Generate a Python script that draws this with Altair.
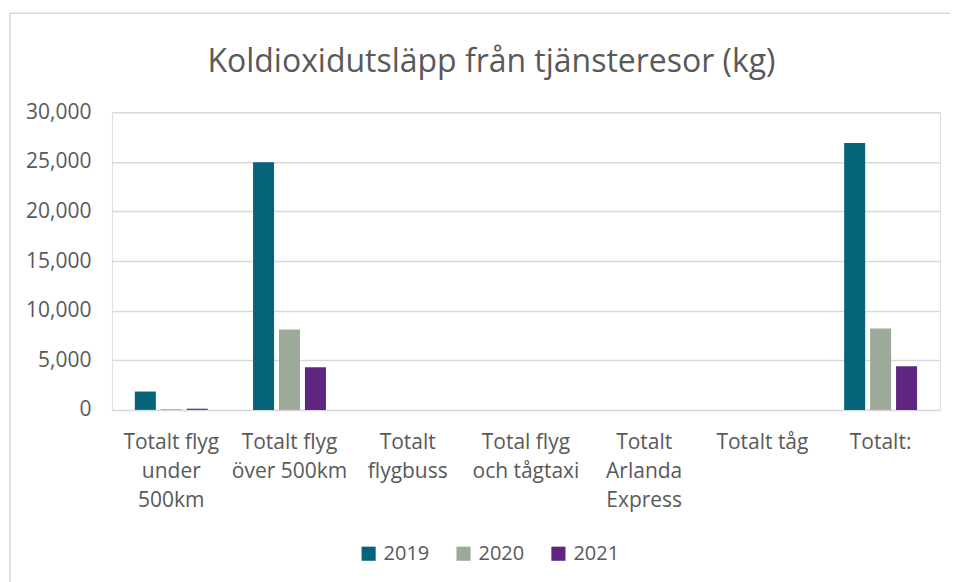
import altair as alt
import pandas as pd

categories = ["Totalt flyg|under|500km", "Totalt flyg|över 500km", "Totalt|flygbuss",
              "Total flyg|och tågtaxi", "Totalt|Arlanda|Express", "Totalt tåg", "Totalt:"]
years = ["2019", "2020", "2021"]
v2019 = [1850, 24950, 0, 0, 0, 0, 26900]
v2020 = [80, 8100, 0, 0, 0, 0, 8200]
v2021 = [120, 4300, 0, 0, 0, 0, 4400]
colors = ["#05647a", "#9caa97", "#612682"]
title_text = "Koldioxidutsläpp från tjänsteresor (kg)"

rows = []
for i, c in enumerate(categories):
    for y, vals in zip(years, [v2019, v2020, v2021]):
        rows.append({"cat": c, "year": y, "value": vals[i]})
df = pd.DataFrame(rows)

bars = alt.Chart(df).mark_bar().encode(
    x=alt.X("cat:N", sort=categories,
            scale=alt.Scale(paddingInner=0.383, paddingOuter=0.194),
            axis=alt.Axis(title=None, labelAngle=0, labelExpr="split(datum.label, '|')",
                          labelFontSize=21, labelColor="#595959", labelFont="Open Sans",
                          labelLineHeight=29, labelPadding=22, domain=False, ticks=False)),
    xOffset=alt.XOffset("year:N", sort=years, scale=alt.Scale(paddingInner=0.19)),
    y=alt.Y("value:Q", scale=alt.Scale(domain=[0, 30000]),
            axis=alt.Axis(title=None, values=[0, 5000, 10000, 15000, 20000, 25000, 30000],
                          format=",.0f", labelFontSize=21, labelColor="#595959",
                          labelFont="Open Sans", labelPadding=21, domain=False, ticks=False,
                          gridColor="#d9d9d9", gridWidth=1.5)),
    color=alt.Color("year:N", sort=years, scale=alt.Scale(domain=years, range=colors),
                    legend=alt.Legend(title=None, orient="none", direction="horizontal",
                                      legendX=247, legendY=432, symbolType="square",
                                      symbolSize=200, symbolStrokeWidth=0,
                                      labelFontSize=20, labelColor="#595959",
                                      labelFont="Open Sans", columnPadding=24,
                                      labelOffset=5)),
)

border = alt.Chart(pd.DataFrame({"a": [0]})).mark_rect(
    fill=None, stroke="#d9d9d9", strokeWidth=1.5
).encode(
    x=alt.value(-102), x2=alt.value(880), y=alt.value(-99), y2=alt.value(500)
)

title = alt.Chart(pd.DataFrame({"t": [title_text]})).mark_text(
    fontSize=32, font="Open Sans", color="#595959", align="center", baseline="alphabetic"
).encode(
    text="t:N", x=alt.value(380), y=alt.value(-40)
)

chart = alt.layer(border, title, bars).properties(
    width=829, height=298,
    autosize=alt.AutoSizeParams(type="none"),
    padding={"left": 104, "top": 104, "right": 10, "bottom": 172},
).configure_view(stroke=None).configure(background="white")

chart.save("out.html", embed_options={"renderer": "svg", "actions": False})
